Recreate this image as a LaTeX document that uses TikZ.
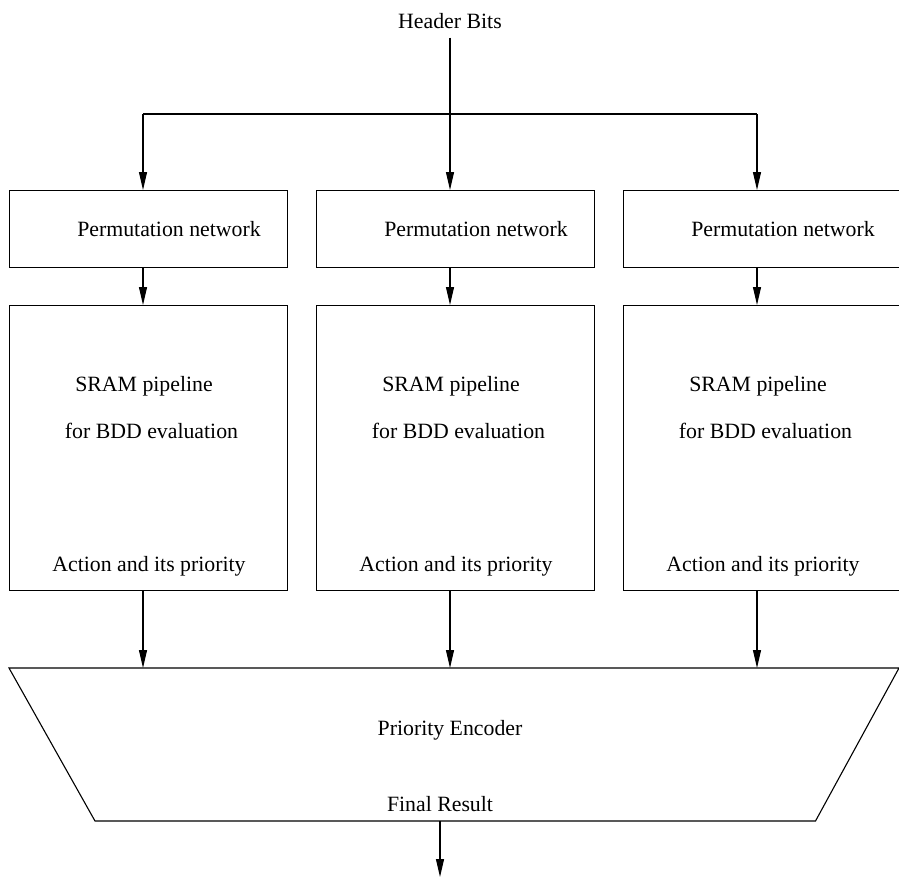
\documentclass[tikz,border=0pt]{standalone}
\usepackage{fontspec}
\setmainfont{Liberation Serif}
\usetikzlibrary{arrows.meta}
\begin{document}
\begin{tikzpicture}[x=1pt,y=-1pt,
  line width=1.1pt,
  arr/.style={-{Triangle[length=18pt,width=8pt]}},
  blk/.style={draw, rectangle, inner sep=0pt, minimum width=278pt, anchor=north west},
  permbox/.style={blk, minimum height=77pt},
  srambox/.style={blk, minimum height=285pt},
  lbl/.style={font=\fontsize{21.8pt}{24pt}\selectfont, inner sep=0pt, anchor=base}]
\useasboundingbox (0,0) rectangle (899,878);

% column positions of the three lanes
\coordinate (c1) at (143,0);
\coordinate (c2) at (450,0);
\coordinate (c3) at (757,0);
\coordinate (bus) at (450,114);

% header input
\node[lbl] (hdr) at (450,28.3) {Header Bits};
\coordinate (hdrtail) at (450,37.7);

% permutation networks
\node[permbox] (p1) at (9,190) {};
\node[permbox] (p2) at (316,190) {};
\node[permbox] (p3) at (623,190) {};
\node[lbl] (pt1) at (169,236.7) {Permutation network};
\node[lbl] (pt2) at (476,236.7) {Permutation network};
\node[lbl] (pt3) at (783,236.7) {Permutation network};

% SRAM pipelines
\node[srambox] (s1) at (9,305) {};
\node[srambox] (s2) at (316,305) {};
\node[srambox] (s3) at (623,305) {};
\foreach \i/\x in {1/143,2/450,3/757}{
  \node[lbl] (sa\i) at (\x+1,391.7) {SRAM pipeline};
  \node[lbl] (sb\i) at (\x+8.5,438) {for BDD evaluation};
  \node[lbl] (sc\i) at (\x+6,571.7) {Action and its priority};
}

% priority encoder
\coordinate (eTL) at (9,668);
\coordinate (eTR) at (899,668);
\coordinate (eBR) at (815.5,821);
\coordinate (eBL) at (95,821);
\draw (eTL) -- (eTR) -- (eBR) -- (eBL) -- cycle;
\node[lbl] (enc) at (450,735) {Priority Encoder};
\node[lbl] (fin) at (440,811) {Final Result};
\coordinate (out) at (440,877);

% header distribution
\draw[arr] (hdrtail) -- (p2.north -| c2);
\draw (c1 |- bus) -- (c3 |- bus);
\draw[arr] (c1 |- bus) -- (p1.north -| c1);
\draw[arr] (c3 |- bus) -- (p3.north -| c3);

% lane connectors
\foreach \i in {1,2,3}{
  \draw[arr] (p\i.south -| c\i) -- (s\i.north -| c\i);
  \draw[arr] (s\i.south -| c\i) -- (eTL -| c\i);
}

% output
\draw[arr] (eBL -| out) -- (out);
\end{tikzpicture}
\end{document}
